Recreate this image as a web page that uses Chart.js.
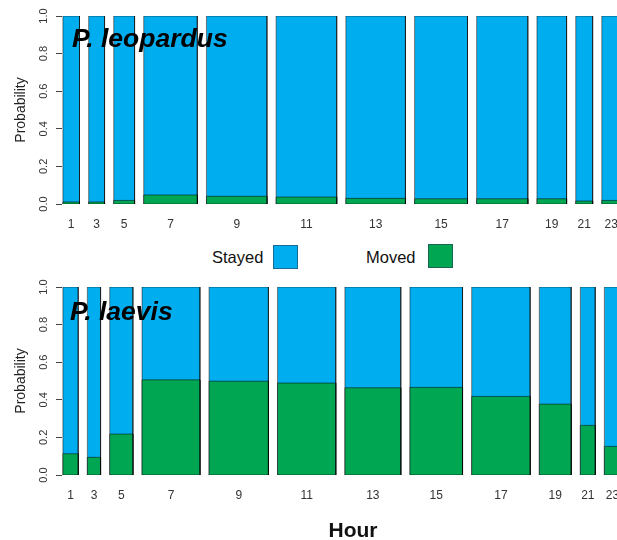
<!DOCTYPE html>
<html>
<head>
<meta charset="utf-8">
<script src="https://cdn.jsdelivr.net/npm/chart.js@4.4.1/dist/chart.umd.min.js"></script>
<style>
  html, body { margin: 0; padding: 0; background: #fff; overflow: hidden; }
  #wrap { position: relative; width: 617px; height: 540px; font-family: "Liberation Sans", Arial, sans-serif; color: #111; }
  canvas { position: absolute; left: 0; }
  #topChart { top: 0; }
  #botChart { top: 270px; }
  .lgText { position: absolute; font-size: 16.5px; line-height: 1; white-space: nowrap; }
  .lgBox { position: absolute; width: 23px; height: 22px; border: 1px solid rgba(40, 60, 90, 0.6); }
  #hour { position: absolute; left: 303px; width: 100px; top: 519px; text-align: center; font-size: 21px; font-weight: bold; line-height: 1; }
</style>
</head>
<body>
<div id="wrap">
  <canvas id="topChart" width="617" height="240"></canvas>
  <canvas id="botChart" width="617" height="270"></canvas>
  <div class="lgText" style="left:212px; top:249px;">Stayed</div>
  <div class="lgBox" style="left:273px; top:245px; background:#00AEEF;"></div>
  <div class="lgText" style="left:366px; top:249px;">Moved</div>
  <div class="lgBox" style="left:428px; top:244px; background:#00A651;"></div>
  <div id="hour">Hour</div>
</div>
<script>
// Hour bins (two-hour blocks), labelled by their odd hour
const hourLabels = ['1', '3', '5', '7', '9', '11', '13', '15', '17', '19', '21', '23'];

// Share of observations (%) falling in each hour bin -> bar widths
const leopardusShare = [3.63, 3.48, 4.57, 11.73, 13.24, 13.26, 13.04, 11.58, 11.20, 6.48, 3.70, 4.09];
const laevisShare    = [3.35, 2.89, 5.08, 12.67, 12.98, 12.74, 12.23, 11.51, 12.80, 6.98, 3.26, 3.52];

// Probability of having moved in each hour bin (the rest stayed)
const leopardusMoved = [0.011, 0.011, 0.019, 0.048, 0.041, 0.037, 0.030, 0.028, 0.028, 0.028, 0.016, 0.019];
const laevisMoved    = [0.113, 0.094, 0.218, 0.506, 0.499, 0.489, 0.464, 0.466, 0.418, 0.377, 0.264, 0.152];

// Probability axis ticks
const yTicks = [0, 0.2, 0.4, 0.6, 0.8, 1.0];

const FONT = '"Liberation Sans", Arial, sans-serif';
const BLUE = '#00AEEF';
const GREEN = '#00A651';
const EDGE = 'rgba(0, 0, 0, 0.5)';
const GAP = 0.02;          // spine-plot spacing between bars (fraction of total width)

// Left/right edges of each spine, widths proportional to the share
function spineEdges(share) {
  const total = share.reduce((a, b) => a + b, 0);
  let acc = 0;
  return share.map((s, i) => {
    const x0 = acc / total + i * GAP;
    acc += s;
    return [x0, x0 + s / total];
  });
}

// Outline of one rectangle per bin, from 0 up to the given height; nulls split the bars
function spinePath(edges, heights) {
  const pts = [];
  edges.forEach(([x0, x1], i) => {
    const h = heights[i];
    pts.push({ x: x0, y: 0 }, { x: x0, y: h }, { x: x1, y: h }, { x: x1, y: 0 });
    if (i < edges.length - 1) pts.push({ x: (x1 + edges[i + 1][0]) / 2, y: null });
  });
  return pts;
}

function baseLine(edges) {
  const pts = [];
  edges.forEach(([x0, x1], i) => {
    pts.push({ x: x0, y: 0 }, { x: x1, y: 0 });
    if (i < edges.length - 1) pts.push({ x: (x1 + edges[i + 1][0]) / 2, y: null });
  });
  return pts;
}

// Species name written inside the plotting area
const speciesLabel = {
  id: 'speciesLabel',
  afterDatasetsDraw(chart, args, opts) {
    const { ctx, chartArea } = chart;
    ctx.save();
    ctx.font = 'italic bold ' + opts.size + 'px ' + FONT;
    ctx.fillStyle = '#000';
    ctx.textBaseline = 'alphabetic';
    ctx.textAlign = 'left';
    ctx.fillText(opts.text, chartArea.left + opts.dx, chartArea.top + opts.dy);
    ctx.restore();
  }
};

// Keep the plotting area fixed: no extra room reserved for overhanging labels
function noOverhang(s) {
  s.paddingLeft = 0; s.paddingRight = 0; s.paddingTop = 0; s.paddingBottom = 0;
}

function spineChart(canvasId, name, share, moved, cfg) {
  const edges = spineEdges(share);
  const centers = edges.map(([a, b]) => (a + b) / 2);
  const ones = share.map(() => 1);
  const lineStyle = { pointRadius: 0, pointHoverRadius: 0, tension: 0, borderWidth: 1, borderColor: EDGE, spanGaps: false };

  return new Chart(document.getElementById(canvasId), {
    type: 'line',
    data: {
      datasets: [
        Object.assign({ label: 'Moved', data: spinePath(edges, moved), backgroundColor: GREEN, fill: 'origin', order: 0 }, lineStyle),
        Object.assign({ label: 'Stayed', data: spinePath(edges, ones), backgroundColor: BLUE, fill: 'origin', order: 1 }, lineStyle),
        Object.assign({ label: 'base', data: baseLine(edges), fill: false, order: -1 }, lineStyle)
      ]
    },
    options: {
      responsive: false,
      animation: false,
      events: [],
      layout: { autoPadding: false, padding: { top: cfg.padTop, left: 0, right: 0, bottom: 0 } },
      plugins: {
        legend: { display: false },
        tooltip: { enabled: false },
        speciesLabel: { text: name, size: cfg.nameSize, dx: cfg.nameDx, dy: cfg.nameDy }
      },
      scales: {
        x: {
          type: 'linear',
          min: -0.002,
          max: 1.2124,
          afterBuildTicks: s => { s.ticks = centers.map(v => ({ value: v })); },
          afterFit: s => { s.height = cfg.xAxisHeight; noOverhang(s); },
          grid: { display: false, drawTicks: false },
          border: { display: false },
          ticks: {
            autoSkip: false, minRotation: 0, maxRotation: 0, padding: 13,
            color: '#333', font: { family: FONT, size: 12 },
            callback: (v, i) => hourLabels[i]
          }
        },
        y: {
          type: 'linear',
          min: 0,
          max: 1,
          afterBuildTicks: s => { s.ticks = yTicks.map(v => ({ value: v })); },
          afterFit: s => { s.width = 62; noOverhang(s); },
          border: { display: false },
          grid: { drawOnChartArea: false, drawTicks: true, tickLength: 6, color: '#444' },
          ticks: {
            minRotation: 90, maxRotation: 90, crossAlign: 'center', padding: 4,
            color: '#333', font: { family: FONT, size: 11 },
            callback: v => Number(v).toFixed(1)
          },
          title: {
            display: true, text: 'Probability', color: '#222',
            font: { family: FONT, size: 14 }, padding: { top: 13, bottom: 0 }
          }
        }
      }
    },
    plugins: [speciesLabel]
  });
}

spineChart('topChart', 'P. leopardus', leopardusShare, leopardusMoved,
  { padTop: 16, xAxisHeight: 36, nameSize: 26.5, nameDx: 10, nameDy: 31 });
spineChart('botChart', 'P. laevis', laevisShare, laevisMoved,
  { padTop: 17, xAxisHeight: 65, nameSize: 26.5, nameDx: 8, nameDy: 33 });
</script>
</body>
</html>
